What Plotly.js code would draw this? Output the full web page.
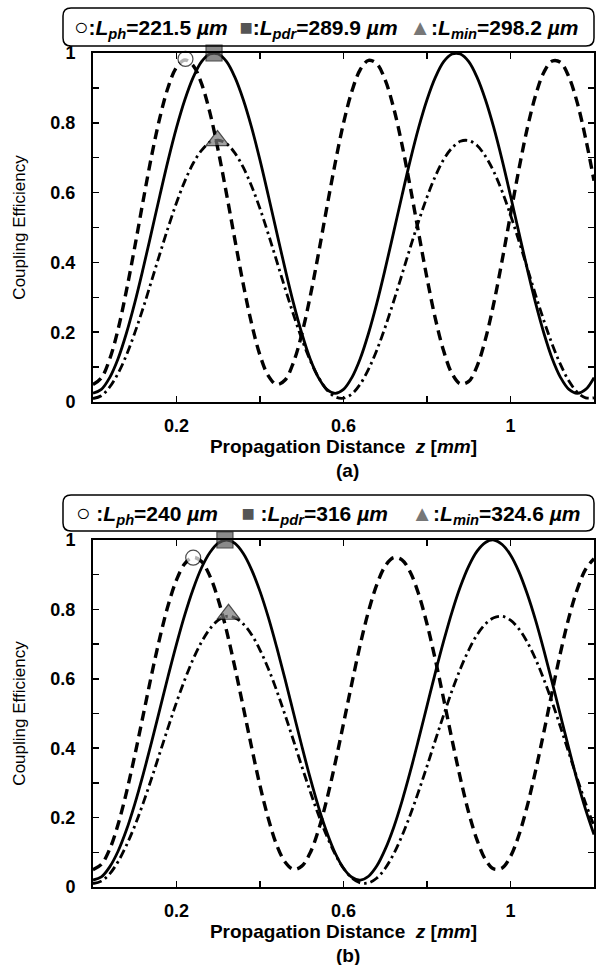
<!DOCTYPE html>
<html><head><meta charset="utf-8">
<script src="https://cdn.plot.ly/plotly-3.0.1.min.js"></script>
<style>html,body{margin:0;padding:0;background:#fff}#chart{width:596px;height:965px}</style>
</head><body><div id="chart"></div>
<script>
// ---------- data ----------
const z = [0,0.02,0.04,0.06,0.08,0.1,0.12,0.14,0.16,0.18,0.2,0.22,0.24,0.26,0.28,0.3,0.32,0.34,0.36,0.38,0.4,0.42,0.44,0.46,0.48,0.5,0.52,0.54,0.56,0.58,0.6,0.62,0.64,0.66,0.68,0.7,0.72,0.74,0.76,0.78,0.8,0.82,0.84,0.86,0.88,0.9,0.92,0.94,0.96,0.98,1.0,1.02,1.04,1.06,1.08,1.1,1.12,1.14,1.16,1.18,1.2];

// panel (a)
const pdrA = [0.025,0.036,0.070,0.124,0.197,0.284,0.382,0.486,0.591,0.693,0.786,0.866,0.930,0.975,0.997,0.997,0.975,0.930,0.866,0.786,0.693,0.591,0.486,0.382,0.284,0.197,0.124,0.070,0.036,0.025,0.036,0.070,0.124,0.197,0.284,0.382,0.486,0.591,0.693,0.786,0.866,0.930,0.975,0.997,0.997,0.975,0.930,0.866,0.786,0.693,0.591,0.486,0.382,0.284,0.197,0.124,0.070,0.036,0.025,0.036,0.070];
const phA = [0.050,0.069,0.123,0.208,0.319,0.444,0.576,0.703,0.814,0.902,0.959,0.980,0.964,0.912,0.829,0.720,0.595,0.464,0.337,0.224,0.134,0.075,0.050,0.063,0.113,0.194,0.301,0.425,0.557,0.684,0.799,0.890,0.952,0.979,0.969,0.922,0.843,0.738,0.615,0.484,0.355,0.239,0.146,0.081,0.052,0.059,0.103,0.180,0.283,0.406,0.537,0.666,0.783,0.878,0.945,0.977,0.973,0.931,0.857,0.755,0.634];
const minA = [0.010,0.018,0.043,0.082,0.134,0.198,0.269,0.346,0.424,0.500,0.571,0.633,0.684,0.721,0.744,0.750,0.740,0.713,0.672,0.618,0.554,0.481,0.404,0.326,0.251,0.181,0.120,0.071,0.035,0.015,0.011,0.023,0.051,0.094,0.149,0.215,0.288,0.365,0.443,0.518,0.587,0.647,0.695,0.728,0.747,0.749,0.735,0.704,0.660,0.603,0.536,0.462,0.385,0.307,0.233,0.165,0.107,0.060,0.028,0.012,0.012];
const markZA = [0.2215, 0.2899, 0.2982];
const markYA = [0.983, 1.0, 0.749];
const legA = ['221.5', '289.9', '298.2'];

// panel (b)
const pdrB = [0.020,0.029,0.058,0.103,0.164,0.239,0.324,0.416,0.512,0.608,0.700,0.785,0.859,0.920,0.964,0.991,1.000,0.990,0.961,0.914,0.852,0.777,0.691,0.599,0.503,0.407,0.315,0.231,0.158,0.098,0.054,0.028,0.020,0.031,0.061,0.109,0.171,0.247,0.333,0.426,0.522,0.618,0.709,0.793,0.866,0.925,0.968,0.993,1.000,0.987,0.957,0.909,0.845,0.769,0.682,0.589,0.493,0.398,0.306,0.223,0.151];
const phB = [0.050,0.065,0.109,0.180,0.272,0.379,0.494,0.610,0.718,0.812,0.885,0.932,0.950,0.938,0.896,0.828,0.738,0.632,0.518,0.402,0.292,0.197,0.121,0.072,0.051,0.060,0.098,0.164,0.252,0.357,0.471,0.587,0.698,0.795,0.872,0.925,0.949,0.943,0.907,0.844,0.758,0.655,0.541,0.424,0.313,0.214,0.135,0.079,0.052,0.055,0.088,0.149,0.233,0.335,0.447,0.564,0.677,0.777,0.858,0.916,0.946];
const minB = [0.010,0.017,0.038,0.073,0.120,0.176,0.241,0.312,0.386,0.460,0.532,0.598,0.657,0.706,0.744,0.769,0.780,0.776,0.758,0.727,0.683,0.629,0.566,0.496,0.423,0.348,0.276,0.208,0.147,0.095,0.054,0.026,0.012,0.012,0.026,0.054,0.095,0.147,0.208,0.276,0.348,0.423,0.496,0.566,0.629,0.683,0.727,0.758,0.776,0.780,0.769,0.744,0.706,0.657,0.598,0.532,0.460,0.386,0.312,0.241,0.176];
const markZB = [0.240, 0.316, 0.3246];
const markYB = [0.949, 1.0, 0.786];
const legB = ['240', '316', '324.6'];

// ticks
const xTickVals = [0.2, 0.6, 1.0];
const xTickText = ['0.2', '0.6', '1'];
const xMinorVals = [0.4, 0.8];
const yTickVals = [0, 0.2, 0.4, 0.6, 0.8, 1];
const yTickText = ['0', '0.2', '0.4', '0.6', '0.8', '1'];
const yMinorVals = [0.1, 0.3, 0.5, 0.7, 0.9];

const xTitle = 'Propagation Distance\u00a0 <i>z</i> [<i>mm</i>]';
const yTitle = 'Coupling Efficiency';
const panelLabels = ['(a)', '(b)'];

// ---------- drawing ----------
const W = 596, H = 965;
const F = '"Liberation Sans", Arial, Helvetica, sans-serif';
const X = v => +(v / W).toFixed(5);
const Y = v => +(1 - v / H).toFixed(5);

function roundRect(x0, y0, x1, y1, r) {
  return `M${X(x0+r)},${Y(y0)} L${X(x1-r)},${Y(y0)} Q${X(x1)},${Y(y0)} ${X(x1)},${Y(y0+r)} ` +
         `L${X(x1)},${Y(y1-r)} Q${X(x1)},${Y(y1)} ${X(x1-r)},${Y(y1)} L${X(x0+r)},${Y(y1)} ` +
         `Q${X(x0)},${Y(y1)} ${X(x0)},${Y(y1-r)} L${X(x0)},${Y(y0+r)} Q${X(x0)},${Y(y0)} ${X(x0+r)},${Y(y0)} Z`;
}

function lineTraces(xa, ya, pdr, ph, mn, mz, my) {
  return [
    {x: z, y: ph, xaxis: xa, yaxis: ya, mode: 'lines', line: {color: '#000', width: 3.4, dash: '10px,6px', shape: 'spline'}, showlegend: false, hoverinfo: 'skip'},
    {x: z, y: mn, xaxis: xa, yaxis: ya, mode: 'lines', line: {color: '#000', width: 2.8, dash: '9px,4px,2.5px,4px', shape: 'spline'}, showlegend: false, hoverinfo: 'skip'},
    {x: z, y: pdr, xaxis: xa, yaxis: ya, mode: 'lines', line: {color: '#000', width: 2.8, shape: 'spline'}, showlegend: false, hoverinfo: 'skip'},
    {x: mz, y: my, xaxis: xa, yaxis: ya, mode: 'markers', cliponaxis: false, showlegend: false, hoverinfo: 'skip',
     marker: {symbol: ['circle', 'square', 'triangle-up'], size: [15, 16, 20],
              color: ['#ffffff', '#5a5a5a', '#7a7a7a'], line: {color: '#000', width: 1.2}}}
  ];
}

const data = [].concat(
  lineTraces('x', 'y', pdrA, phA, minA, markZA, markYA),
  lineTraces('x2', 'y2', pdrB, phB, minB, markZB, markYB)
);

const tickFont = {family: F, size: 18, color: '#000', weight: 'bold'};
const common = {ticks: 'inside', ticklen: 6, tickwidth: 1.5, tickcolor: '#000', mirror: 'ticks', showline: true, linewidth: 2,
                linecolor: '#000', showgrid: false, zeroline: false, tickfont: tickFont, fixedrange: true};
function xAxis(anchor) {
  return Object.assign({domain: [X(93), X(594)], anchor: anchor, range: [0, 1.2], tickmode: 'array', tickvals: xTickVals,
          ticktext: xTickText, ticklabelstandoff: 6,
          title: {text: xTitle, font: {family: F, size: 19, color: '#000', weight: 'bold'}, standoff: 5},
          minor: {tickmode: 'array', tickvals: xMinorVals, ticks: 'inside', ticklen: 6, tickwidth: 1.5, tickcolor: '#000', showgrid: false}}, common);
}
function yAxis(anchor, top, bottom) {
  return Object.assign({domain: [Y(bottom), Y(top)], anchor: anchor, range: [0, 1], tickmode: 'array', tickvals: yTickVals,
          ticktext: yTickText, ticklabelstandoff: 12,
          title: {text: yTitle, font: {family: F, size: 17, color: '#000'}, standoff: 20},
          minor: {tickmode: 'array', tickvals: yMinorVals, ticks: 'inside', ticklen: 6, tickwidth: 1.5, tickcolor: '#000', showgrid: false}}, common);
}

function legendText(vals, symGap, gap) {
  const ci = '<span style="font-size:24px">\u25CB</span>';
  const sq = '<span style="color:#555;font-size:22px">\u25A0</span>';
  const tr = '<span style="color:#777;font-size:22px">\u25B2</span>';
  return ci + symGap + ':<i>L<sub>ph</sub></i>=' + vals[0] + ' <i>\u00b5m</i>' + gap +
         sq + symGap + ':<i>L<sub>pdr</sub></i>=' + vals[1] + ' <i>\u00b5m</i>' + gap +
         tr + ':<i>L<sub>min</sub></i>=' + vals[2] + ' <i>\u00b5m</i>';
}

const ann = (text, x, y, size, opts) => Object.assign({text: text, xref: 'paper', yref: 'paper', x: X(x), y: Y(y),
  xanchor: 'center', yanchor: 'middle', showarrow: false, font: {family: F, size: size, color: '#000'}}, opts || {});
const bold = size => ({font: {family: F, size: size, color: '#000', weight: 'bold'}});

const layout = {
  width: W, height: H, margin: {l: 0, r: 0, t: 0, b: 0},
  paper_bgcolor: '#fff', plot_bgcolor: '#fff',
  xaxis: xAxis('y'), yaxis: yAxis('x', 53, 402),
  xaxis2: xAxis('y2'), yaxis2: yAxis('x2', 540, 887),
  shapes: [
    {type: 'path', xref: 'paper', yref: 'paper', path: roundRect(63, 8, 594, 46, 8), line: {color: '#000', width: 1.5}, fillcolor: 'rgba(0,0,0,0)'},
    {type: 'path', xref: 'paper', yref: 'paper', path: roundRect(63, 495, 594, 531, 8), line: {color: '#000', width: 1.5}, fillcolor: 'rgba(0,0,0,0)'}
  ],
  annotations: [
    ann(legendText(legA, '', '\u00a0\u00a0'), 326, 27, 21, bold(21)),
    ann(legendText(legB, '\u00a0', '\u00a0\u00a0\u00a0\u00a0'), 328, 513, 21, bold(21)),
    ann(panelLabels[0], 348, 470, 19, bold(19)),
    ann(panelLabels[1], 348, 955, 19, bold(19))
  ]
};

Plotly.newPlot('chart', data, layout, {displayModeBar: false, staticPlot: true});
</script>
</body></html>
